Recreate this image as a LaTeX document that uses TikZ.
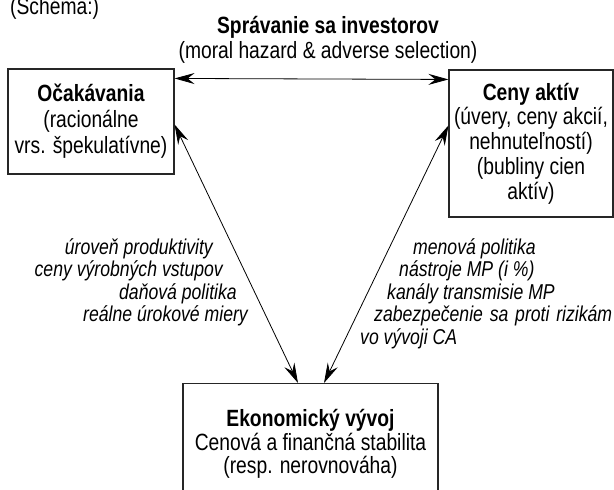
\documentclass[tikz,border=0pt]{standalone}
\usepackage{fontspec}
\setmainfont{Liberation Sans}[FakeStretch=0.82]
\usetikzlibrary{arrows.meta}
\begin{document}
\begin{tikzpicture}[x=1pt,y=-1pt,
  box/.style={draw=black!85, line width=1.1pt, inner sep=0pt},
  mainfont/.style={font=\fontsize{23.5}{25}\selectfont},
  labfont/.style={font=\fontsize{21.5}{22.5}\selectfont\itshape},
  plain/.style={inner sep=0pt},
  twoway/.style={line width=0.8pt, {Stealth[length=20pt,width=11pt,inset=7pt]}-{Stealth[length=20pt,width=11pt,inset=7pt]}},
]
\useasboundingbox (0,0) rectangle (614,490);

\node[plain, mainfont, anchor=base west] (schema) at (10,14) {(Schéma:)};

\node[plain, mainfont, anchor=base] (sprav) at (328,33)
  {\parbox[t]{400pt}{\centering\textbf{Správanie sa investorov}\\(moral hazard \& adverse selection)}};

\node[box, align=center, font=\fontsize{23.5}{26}\selectfont,
      minimum width=166pt, minimum height=105pt] (ocak) at (91,121.5)
  {\textbf{Očakávania}\\(racionálne\\vrs. špekulatívne)};

\node[box, align=center, font=\fontsize{23.5}{24.75}\selectfont,
      minimum width=164pt, minimum height=147pt] (ceny) at (531,143.5)
  {\textbf{Ceny aktív}\\(úvery, ceny akcií,\\nehnuteľností)\\(bubliny cien\\aktív)};

\node[box, font=\fontsize{23.5}{23.5}\selectfont, anchor=north] (ekon) at (310.5,383)
  {\parbox[b][130pt][t]{255pt}{\centering\vspace{22pt}\rule{0pt}{21pt}\textbf{Ekonomický vývoj}\\Cenová a finančná stabilita\\(resp. nerovnováha)}};

\node[plain, labfont, anchor=base east] (labl) at (248,254)
  {\parbox[t]{250pt}{\raggedleft úroveň produktivity\hspace{35pt}\mbox{}\\ceny výrobných vstupov\hspace{25pt}\mbox{}\\daňová politika\hspace{11pt}\mbox{}\\reálne úrokové miery}};

\node[plain, labfont, anchor=base west] (labr) at (360,254)
  {\parbox[t]{260pt}{\raggedright\hspace*{53pt}menová politika\\\hspace*{39pt}nástroje MP (i~\%)\\\hspace*{27pt}kanály transmisie MP\\\hspace*{14pt}\makebox[238pt][s]{zabezpečenie sa proti rizikám}\\vo vývoji CA}};

\draw[twoway] ([yshift=-10pt]ocak.north east) -- ([yshift=-10pt]ceny.north west);
\draw[twoway] ([yshift=-56pt]ocak.north east) -- ([xshift=-12.5pt]ekon.north);
\draw[twoway] ([yshift=-56pt]ceny.north west) -- ([xshift=13.5pt]ekon.north);
\end{tikzpicture}
\end{document}
